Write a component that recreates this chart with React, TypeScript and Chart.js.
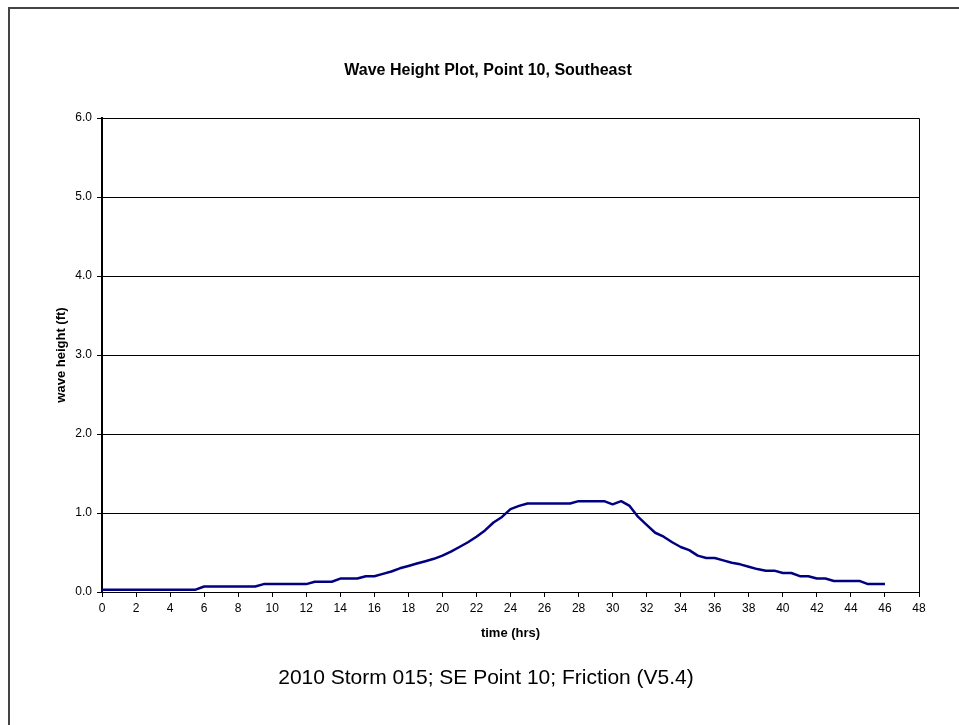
import React, { useEffect, useRef } from "react";
import { Chart, registerables } from "chart.js";

Chart.register(...registerables);

const chartTitle = "Wave Height Plot, Point 10, Southeast";
const footerText = "2010 Storm 015; SE Point 10; Friction (V5.4)";
const xAxisTitle = "time (hrs)";
const yAxisTitle = "wave height (ft)";

const hours = [
  0, 0.5, 1, 1.5, 2, 2.5, 3, 3.5, 4, 4.5, 5, 5.5,
  6, 6.5, 7, 7.5, 8, 8.5, 9, 9.5, 10, 10.5, 11, 11.5,
  12, 12.5, 13, 13.5, 14, 14.5, 15, 15.5, 16, 16.5, 17, 17.5,
  18, 18.5, 19, 19.5, 20, 20.5, 21, 21.5, 22, 22.5, 23, 23.5,
  24, 24.5, 25, 25.5, 26, 26.5, 27, 27.5, 28, 28.5, 29, 29.5,
  30, 30.5, 31, 31.5, 32, 32.5, 33, 33.5, 34, 34.5, 35, 35.5,
  36, 36.5, 37, 37.5, 38, 38.5, 39, 39.5, 40, 40.5, 41, 41.5,
  42, 42.5, 43, 43.5, 44, 44.5, 45, 45.5, 46,
];

const waveHeight = [
  0.03, 0.03, 0.03, 0.03, 0.03, 0.03, 0.03, 0.03, 0.03, 0.03, 0.03, 0.03,
  0.07, 0.07, 0.07, 0.07, 0.07, 0.07, 0.07, 0.10, 0.10, 0.10, 0.10, 0.10,
  0.10, 0.13, 0.13, 0.13, 0.17, 0.17, 0.17, 0.20, 0.20, 0.23, 0.26, 0.30,
  0.33, 0.36, 0.39, 0.42, 0.46, 0.51, 0.57, 0.63, 0.70, 0.78, 0.88, 0.95,
  1.05, 1.09, 1.12, 1.12, 1.12, 1.12, 1.12, 1.12, 1.15, 1.15, 1.15, 1.15,
  1.11, 1.15, 1.09, 0.95, 0.85, 0.75, 0.70, 0.63, 0.57, 0.53, 0.46, 0.43,
  0.43, 0.40, 0.37, 0.35, 0.32, 0.29, 0.27, 0.27, 0.24, 0.24, 0.20, 0.20,
  0.17, 0.17, 0.14, 0.14, 0.14, 0.14, 0.10, 0.10, 0.10,
];

const FONT = "Arial, 'Liberation Sans', sans-serif";

const decorPlugin = {
  id: "decor",
  beforeDraw(chart: any) {
    const ctx = chart.ctx;
    ctx.save();
    ctx.fillStyle = "#444444";
    ctx.fillRect(8, 7, 2, chart.height - 7);
    ctx.fillRect(8, 7, chart.width - 8, 2);
    ctx.restore();
  },
  afterDraw(chart: any) {
    const ctx = chart.ctx;
    const a = chart.chartArea;
    ctx.save();
    ctx.strokeStyle = "#000000";
    ctx.lineWidth = 1;
    ctx.beginPath();
    ctx.moveTo(a.left, Math.round(a.top) + 0.5);
    ctx.lineTo(Math.round(a.right) + 0.5, Math.round(a.top) + 0.5);
    ctx.lineTo(Math.round(a.right) + 0.5, a.bottom);
    ctx.stroke();
    ctx.fillStyle = "#000000";
    ctx.textAlign = "center";
    ctx.textBaseline = "middle";
    ctx.font = `bold 16px ${FONT}`;
    ctx.fillText(chartTitle, 488, 71);
    ctx.font = `21px ${FONT}`;
    ctx.fillText(footerText, 486, 678);
    ctx.restore();
  },
};

export default function App() {
  const ref = useRef<HTMLCanvasElement | null>(null);
  useEffect(() => {
    if (!ref.current) return;
    const points = hours.map((h, i) => ({ x: h, y: waveHeight[i] }));
    const chart = new Chart(ref.current, {
      type: "line",
      data: {
        datasets: [
          {
            data: points,
            borderColor: "#000080",
            borderWidth: 2.5,
            pointRadius: 0,
            tension: 0,
            fill: false,
            borderJoinStyle: "round",
          },
        ],
      },
      options: {
        animation: false,
        responsive: false,
        devicePixelRatio: 1,
        layout: { padding: { top: 118, left: 0, right: 40, bottom: 0 } },
        plugins: {
          legend: { display: false },
          tooltip: { enabled: false },
          title: { display: false },
        },
        scales: {
          x: {
            type: "linear",
            min: 0,
            max: 48,
            afterFit: (s: any) => {
              s.height = 133;
            },
            ticks: {
              stepSize: 2,
              color: "#000",
              padding: 4,
              maxRotation: 0,
              font: { family: FONT, size: 12 },
            },
            grid: {
              drawOnChartArea: false,
              drawTicks: true,
              tickLength: 5,
              tickColor: "#000",
              color: "#000",
            },
            border: { display: true, color: "#000", width: 1 },
            title: {
              display: true,
              text: xAxisTitle,
              color: "#000",
              font: { family: FONT, size: 13, weight: "bold" },
              padding: { top: 0, bottom: 84 },
            },
          },
          y: {
            min: 0,
            max: 6,
            afterFit: (s: any) => {
              s.width = 102;
            },
            ticks: {
              stepSize: 1,
              color: "#000",
              padding: 5,
              font: { family: FONT, size: 12 },
              callback: (v: any) => Number(v).toFixed(1),
            },
            grid: {
              color: "#000",
              lineWidth: 1,
              drawTicks: true,
              tickLength: 5,
              tickColor: "#000",
            },
            border: { display: true, color: "#000", width: 2 },
            title: {
              display: true,
              text: yAxisTitle,
              color: "#000",
              font: { family: FONT, size: 13, weight: "bold" },
              padding: { top: 54, bottom: 0 },
            },
          },
        },
      },
      plugins: [decorPlugin],
    });
    return () => chart.destroy();
  }, []);
  return (
    <div style={{ position: "absolute", left: 0, top: 0, width: 959, height: 725, overflow: "hidden", background: "#fff" }}>
      <canvas ref={ref} width={959} height={725} style={{ width: 959, height: 725, display: "block" }} />
    </div>
  );
}
